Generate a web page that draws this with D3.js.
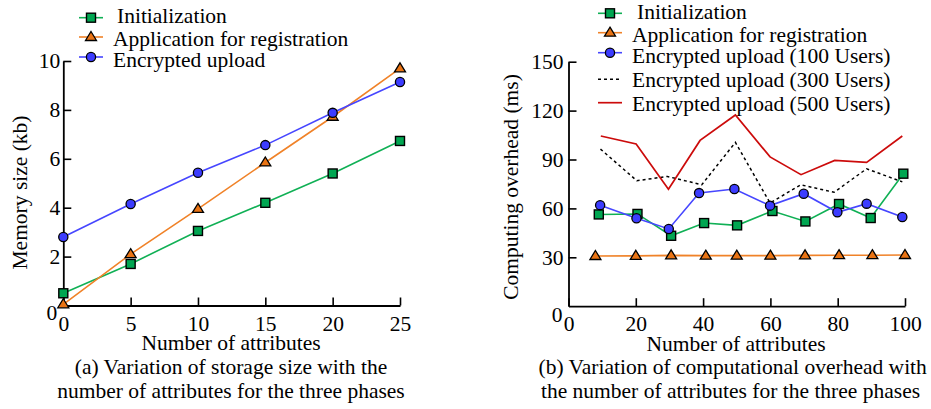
<!DOCTYPE html>
<html>
<head>
<meta charset="utf-8">
<script src="https://cdn.jsdelivr.net/npm/d3@7"></script>
<style>
  html, body { margin: 0; padding: 0; background: #fff; }
  svg { display: block; }
</style>
</head>
<body>
<svg id="chart" width="931" height="409"></svg>
<script>
// ---------- Data (a) storage size ----------
const leftX = [0, 5, 10, 15, 20, 25];
const leftInit = [0.5, 1.7, 3.05, 4.2, 5.4, 6.73];
const leftApp = [0.05, 2.1, 3.95, 5.85, 7.72, 9.7];
const leftEnc = [2.8, 4.15, 5.43, 6.56, 7.88, 9.14];
const leftXTicks = [0, 5, 10, 15, 20, 25];
const leftYTicks = [0, 2, 4, 6, 8, 10];

// ---------- Data (b) computational overhead ----------
const rightInitX = [9, 20.5, 30.5, 40.3, 50.1, 60.6, 70.4, 80.4, 89.8, 99.5];
const rightInit = [56.3, 56.6, 43.2, 51, 49.6, 58.4, 52, 62.7, 54.1, 81.3];
const rightAppX = [8, 20, 30.5, 40.8, 50, 60, 70.3, 80.4, 90.3, 100];
const rightApp = [30.8, 30.9, 31.2, 31, 31, 31, 31.2, 31.3, 31.3, 31.4];
const rightEnc100X = [9.4, 20.2, 29.8, 38.8, 49.3, 59.9, 69.9, 79.9, 88.6, 99.2];
const rightEnc100 = [62, 54, 47.4, 69.4, 71.9, 61.7, 69, 57.6, 62.9, 54.7];
const rightEnc300X = [9.5, 20.3, 29.4, 39.6, 49.6, 59.9, 69, 78.9, 88.6, 99.2];
const rightEnc300 = [96.4, 77, 79.6, 74.5, 100.5, 63.3, 74.5, 69.9, 84.3, 76.3];
const rightEnc500X = [9.6, 20.1, 29.7, 39.1, 49.6, 59.9, 69.1, 79.1, 88.6, 99.2];
const rightEnc500 = [104.4, 99.5, 71.7, 101.7, 117.3, 91.6, 80.7, 89.4, 88.2, 104.4];
const rightXTicks = [0, 20, 40, 60, 80, 100];
const rightYTicks = [0, 30, 60, 90, 120, 150];

const legendLeft = ["Initialization", "Application for registration", "Encrypted upload"];
const legendRight = ["Initialization", "Application for registration",
  "Encrypted upload (100 Users)", "Encrypted upload (300 Users)", "Encrypted upload (500 Users)"];

const GREEN = "#10b055", GREEN_FILL = "#00a651";
const ORANGE = "#f08228", ORANGE_FILL = "#ea7414";
const BLUE = "#4646ff", BLUE_FILL = "#3c3cff";
const RED = "#cc0b0b";
const FONT = "Liberation Serif";
const FS = 21.5;

const svg = d3.select("#chart");

function txt(g, x, y, str, anchor) {
  return g.append("text").attr("x", x).attr("y", y)
    .attr("text-anchor", anchor || "start")
    .attr("font-family", FONT).attr("font-size", FS).attr("fill", "#000").text(str);
}

function drawMarker(g, type, x, y, fill) {
  if (type === "square") {
    g.append("rect").attr("x", x - 4.5).attr("y", y - 4.5).attr("width", 9).attr("height", 9)
      .attr("fill", fill).attr("stroke", "#000").attr("stroke-width", 1.4);
  } else if (type === "triangle") {
    g.append("path").attr("d", `M${x},${y - 5.5}L${x + 5.5},${y + 3.5}L${x - 5.5},${y + 3.5}Z`)
      .attr("fill", fill).attr("stroke", "#000").attr("stroke-width", 1.3);
  } else if (type === "circle") {
    g.append("circle").attr("cx", x).attr("cy", y).attr("r", 4.6)
      .attr("fill", fill).attr("stroke", "#000").attr("stroke-width", 1.3);
  }
}

function drawSeries(g, xs, ys, xScale, yScale, s) {
  const pts = xs.map((d, i) => [xScale(d), yScale(ys[i])]);
  g.append("path").attr("d", d3.line()(pts)).attr("fill", "none")
    .attr("stroke", s.color).attr("stroke-width", s.width || 1.6)
    .attr("stroke-dasharray", s.dash || null);
  if (s.marker) pts.forEach(p => drawMarker(g, s.marker, p[0], p[1], s.fill));
}

function drawAxes(g, xScale, yScale, xTicks, yTicks, yPad, zeroShift) {
  const xa = g.append("g").attr("transform", `translate(0,${yScale.range()[0]})`)
    .call(d3.axisBottom(xScale).tickValues(xTicks).tickSize(-8).tickSizeOuter(0).tickPadding(10));
  const ya = g.append("g").attr("transform", `translate(${xScale.range()[0]},0)`)
    .call(d3.axisLeft(yScale).tickValues(yTicks).tickSize(-8).tickSizeOuter(0).tickPadding(yPad));
  [xa, ya].forEach(a => {
    a.attr("font-family", FONT).attr("font-size", FS);
    a.selectAll("path.domain").attr("stroke", "#000").attr("stroke-width", 1.8);
    a.selectAll(".tick line").attr("stroke", "#000").attr("stroke-width", 1.6);
    a.selectAll(".tick text").attr("font-family", FONT).attr("font-size", FS).attr("fill", "#000");
  });
  ya.selectAll(".tick").filter(d => d === 0).select("text")
    .attr("transform", `translate(${zeroShift[0]},${zeroShift[1]})`);
  ya.selectAll(".tick").filter(d => d === 0).select("line").remove();
}

// ---------- Chart (a) ----------
{
  const g = svg.append("g");
  const x = d3.scaleLinear().domain([0, 25]).range([63.3, 400]);
  const y = d3.scaleLinear().domain([0, 10]).range([305.5, 61]);
  drawAxes(g, x, y, leftXTicks, leftYTicks, 3, [-3, 7]);
  const series = [
    { xs: leftX, ys: leftInit, color: GREEN, fill: GREEN_FILL, marker: "square" },
    { xs: leftX, ys: leftApp, color: ORANGE, fill: ORANGE_FILL, marker: "triangle" },
    { xs: leftX, ys: leftEnc, color: BLUE, fill: BLUE_FILL, marker: "circle" }
  ];
  series.forEach(s => drawSeries(g, s.xs, s.ys, x, y, s));

  const symY = [17.7, 37, 57];
  const txtY = [22.7, 45.5, 66.7];
  series.forEach((s, i) => {
    g.append("line").attr("x1", 79).attr("x2", 103).attr("y1", symY[i]).attr("y2", symY[i])
      .attr("stroke", s.color).attr("stroke-width", 1.6);
    drawMarker(g, s.marker, 91, symY[i], s.fill);
    txt(g, i === 0 ? 117 : 113, txtY[i], legendLeft[i]);
  });

  txt(g, 0, 0, "Memory size (kb)", "middle").attr("transform", "translate(27,192.5) rotate(-90)");
  txt(g, 231, 350, "Number of attributes", "middle");
  txt(g, 231, 374, "(a) Variation of storage size with the", "middle");
  txt(g, 231, 398.3, "number of attributes for the three phases", "middle");
}

// ---------- Chart (b) ----------
{
  const g = svg.append("g");
  const x = d3.scaleLinear().domain([0, 100]).range([568.5, 905]);
  const y = d3.scaleLinear().domain([0, 150]).range([306.2, 61.7]);
  drawAxes(g, x, y, rightXTicks, rightYTicks, 5, [-1, 8]);
  const series = [
    { xs: rightInitX, ys: rightInit, color: GREEN, fill: GREEN_FILL, marker: "square" },
    { xs: rightAppX, ys: rightApp, color: ORANGE, fill: ORANGE_FILL, marker: "triangle" },
    { xs: rightEnc100X, ys: rightEnc100, color: BLUE, fill: BLUE_FILL, marker: "circle" },
    { xs: rightEnc300X, ys: rightEnc300, color: "#000", dash: "3,3", width: 1.5 },
    { xs: rightEnc500X, ys: rightEnc500, color: RED, width: 1.7 }
  ];
  series.forEach(s => drawSeries(g, s.xs, s.ys, x, y, s));

  const symY = [13.3, 32.7, 52.7, 79.3, 102.7];
  const txtY = [19, 42.3, 63, 87.3, 111];
  series.forEach((s, i) => {
    g.append("line").attr("x1", 598).attr("x2", 622).attr("y1", symY[i]).attr("y2", symY[i])
      .attr("stroke", s.color).attr("stroke-width", s.width || 1.6)
      .attr("stroke-dasharray", s.dash || null);
    if (s.marker) drawMarker(g, s.marker, 610, symY[i], s.fill);
    txt(g, i === 0 ? 637 : 632, txtY[i], legendRight[i]);
  });

  txt(g, 0, 0, "Computing overhead (ms)", "middle").attr("transform", "translate(518,187) rotate(-90)");
  txt(g, 736, 351, "Number of attributes", "middle");
  txt(g, 732.7, 374.3, "(b) Variation of computational overhead with", "middle");
  txt(g, 730.5, 398, "the number of attributes for the three phases", "middle");
}
</script>
</body>
</html>
